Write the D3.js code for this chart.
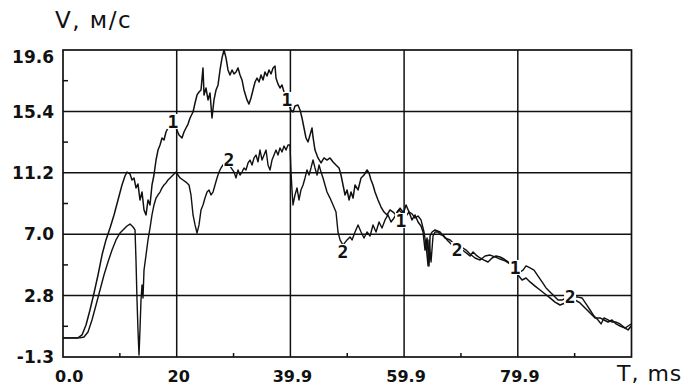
<!DOCTYPE html>
<html>
<head>
<meta charset="utf-8">
<script src="https://cdn.jsdelivr.net/npm/d3@7"></script>
<style>
  html, body { margin: 0; padding: 0; background: #fff; }
  svg { display: block; }
</style>
</head>
<body>
<svg id="chart" width="689" height="387"></svg>
<script>
// Axis ticks and labels
const xTickValues = [0, 19.97, 39.94, 59.91, 79.88];
const xTickLabels = ["0.0", "20", "39.9", "59.9", "79.9"];
const yTickValues = [-1.3, 2.88, 7.06, 11.24, 15.42, 19.6];
const yTickLabels = ["-1.3", "2.8", "7.0", "11.2", "15.4", "19.6"];

// Series 1: time, ms
const t1 = [0, 2.63, 3.34, 4.04, 4.74, 5.45, 6.15, 6.85, 7.55, 8.26, 8.96, 9.66, 10.36, 10.89, 11.24, 11.77, 12.12, 12.47, 12.82, 13.17,
  13.52, 13.88, 14.23, 14.58, 14.93, 15.28, 15.63, 15.98, 16.34, 16.69, 17.04, 17.39, 17.74, 18.09, 18.44, 18.80, 19.32, 19.85, 20.38, 20.90,
  21.25, 21.60, 21.96, 22.31, 22.84, 23.19, 23.54, 23.89, 24.24, 24.59, 24.77, 25.12, 25.47, 25.82, 26.17, 26.52, 26.88, 27.23, 27.58, 27.93,
  28.28, 28.63, 28.98, 29.33, 29.69, 30.04, 30.39, 30.74, 31.09, 31.44, 31.79, 32.32, 32.67, 33.02, 33.37, 33.73, 34.08, 34.43, 34.78, 35.13,
  35.48, 35.83, 36.18, 36.54, 36.89, 37.24, 37.41, 37.76, 38.11, 38.46, 38.82, 39.34, 40.04, 40.40, 40.75, 41.27, 41.63, 41.98, 42.33, 42.68,
  43.03, 43.39, 43.74, 43.91, 44.26, 44.79, 45.32, 45.84, 46.37, 46.90, 47.43, 47.95, 48.48, 48.83, 49.18, 49.54, 49.89, 50.24, 50.59, 50.94,
  51.29, 51.82, 52.35, 52.87, 53.40, 53.75, 54.10, 54.45, 54.80, 55.33, 55.86, 56.39, 56.91, 57.44, 57.97, 58.49, 59.02, 59.72, 60.25, 60.78,
  61.30, 61.83, 62.36, 62.88, 63.24, 63.59, 63.94, 64.29, 64.47, 64.82, 65.34, 66.22, 67.10, 67.98, 68.86, 69.74, 70.61, 71.49, 72.02, 72.55,
  73.25, 73.95, 74.65, 75.36, 76.06, 76.76, 77.46, 78.17, 78.87, 79.40, 79.92, 80.62, 81.33, 82.03, 82.91, 83.79, 84.67, 85.54, 86.42, 87.30,
  88.18, 89.06, 89.93, 90.81, 91.69, 92.57, 93.45, 94.33, 95.03, 95.73, 96.43, 97.14, 97.84, 98.72, 99.25, 99.77];
// Series 1: velocity, m/s
const v1 = [0.0, 0.0, 0.20, 0.88, 1.90, 3.06, 4.28, 5.64, 6.67, 7.48, 8.37, 9.39, 10.41, 11.02, 11.29, 11.16, 10.75, 10.89, 10.21, 10.48,
  9.39, 9.93, 8.71, 8.37, 9.39, 9.05, 10.41, 11.09, 12.11, 12.79, 13.13, 13.61, 13.47, 14.02, 14.29, 14.49, 14.70, 14.29, 13.81, 13.61,
  14.02, 14.29, 14.56, 14.97, 15.38, 15.99, 16.54, 16.74, 16.88, 18.38, 16.54, 17.01, 16.20, 16.67, 14.97, 16.20, 16.88, 17.22, 18.24, 19.06,
  19.60, 19.06, 18.24, 17.90, 18.24, 17.97, 18.10, 18.38, 17.90, 17.56, 16.88, 16.20, 15.92, 16.33, 16.88, 17.42, 17.69, 17.42, 17.90, 17.56,
  18.10, 17.83, 18.24, 17.97, 18.38, 18.51, 17.69, 17.29, 17.01, 17.22, 16.74, 16.20, 15.52, 15.38, 15.79, 15.86, 15.52, 14.97, 14.29, 13.61,
  13.34, 13.81, 14.29, 13.68, 12.79, 12.25, 11.91, 12.25, 12.11, 12.25, 11.98, 11.77, 11.57, 11.09, 10.41, 9.73, 10.07, 9.39, 9.93, 9.52,
  10.41, 10.07, 10.89, 11.09, 11.43, 11.23, 10.75, 10.41, 9.93, 9.39, 8.91, 8.57, 8.37, 8.71, 8.57, 8.37, 8.71, 8.44, 9.05, 8.57,
  8.03, 8.37, 7.89, 7.62, 7.21, 5.98, 6.80, 4.90, 6.94, 7.21, 7.35, 7.21, 6.80, 6.67, 6.32, 6.12, 5.85, 5.58, 5.85, 5.64,
  5.44, 5.30, 5.17, 5.44, 5.58, 5.51, 5.37, 5.17, 4.90, 4.49, 4.28, 3.94, 4.08, 3.81, 3.53, 3.26, 2.99, 2.72, 2.44, 2.24,
  2.38, 2.58, 2.58, 2.38, 2.04, 1.70, 1.36, 1.36, 1.22, 1.08, 1.22, 0.95, 0.81, 0.67, 0.54, 0.81];

// Series 2: time, ms
const t2 = [0, 2.11, 2.99, 3.69, 4.39, 5.09, 5.80, 6.50, 7.20, 7.90, 8.61, 9.31, 10.01, 10.71, 11.24, 11.77, 12.30, 12.65, 12.82, 13.00,
  13.17, 13.35, 13.52, 13.70, 13.88, 14.05, 14.23, 14.58, 14.93, 15.28, 15.63, 15.98, 16.34, 16.69, 17.04, 17.39, 17.74, 18.09, 18.44, 18.80,
  19.15, 19.50, 19.85, 20.20, 20.55, 21.08, 21.60, 22.13, 22.48, 22.84, 23.19, 23.54, 23.89, 24.24, 24.59, 24.94, 25.30, 25.65, 26.00, 26.35,
  26.70, 27.05, 27.40, 27.75, 28.11, 28.63, 30.04, 30.39, 30.74, 31.09, 31.44, 31.79, 32.14, 32.50, 32.85, 33.20, 33.55, 33.90, 34.25, 34.60,
  34.96, 35.31, 35.66, 36.01, 36.36, 36.71, 37.06, 37.41, 37.76, 38.11, 38.47, 38.82, 39.17, 39.52, 39.87, 40.05, 40.22, 40.40, 40.75, 41.10,
  41.45, 41.80, 42.16, 42.51, 42.86, 43.21, 43.56, 43.91, 44.26, 44.62, 44.97, 45.32, 45.67, 46.02, 46.37, 46.90, 47.43, 47.95, 48.30, 48.66,
  49.18, 49.89, 50.41, 50.77, 51.29, 51.82, 52.35, 52.87, 53.40, 53.93, 54.45, 54.98, 55.51, 56.03, 56.56, 57.09, 57.61, 58.14, 58.67, 59.20,
  59.72, 60.25, 60.78, 61.30, 61.83, 62.36, 62.88, 63.41, 63.76, 64.12, 64.29, 64.64, 64.99, 65.34, 65.87, 66.40, 66.92, 67.45, 68.16, 69.21,
  70.26, 70.79, 71.49, 72.37, 73.25, 74.13, 75.01, 75.89, 76.76, 77.64, 78.52, 79.05, 79.75, 80.28, 80.80, 81.33, 82.03, 82.73, 83.44, 84.14,
  84.84, 85.54, 86.25, 86.95, 87.65, 88.35, 89.41, 90.46, 91.16, 91.87, 92.57, 93.27, 93.97, 94.50, 95.03, 95.73, 96.43, 97.14, 97.84, 98.72,
  99.25, 99.77];
// Series 2: velocity, m/s
const v2 = [0.0, 0.0, 0.0, 0.06, 0.40, 1.22, 2.24, 3.26, 4.28, 5.17, 5.98, 6.67, 7.14, 7.41, 7.62, 7.75, 7.55, 7.35, 5.30, 2.58,
  0.54, -1.16, 0.54, 2.58, 3.60, 2.72, 4.62, 5.64, 6.67, 7.48, 8.37, 9.05, 9.52, 9.73, 9.93, 10.21, 10.41, 10.55, 10.75, 10.89,
  11.02, 11.16, 11.29, 11.09, 10.89, 10.75, 10.61, 10.41, 9.73, 8.37, 7.69, 7.14, 7.69, 8.71, 9.05, 9.52, 9.93, 10.07, 9.73, 9.93,
  10.41, 10.89, 11.29, 11.57, 11.77, 12.11, 11.29, 10.89, 11.43, 11.09, 11.29, 11.57, 11.43, 11.91, 12.11, 11.77, 12.25, 12.45, 11.98, 12.79,
  12.11, 12.45, 12.79, 11.77, 11.43, 12.11, 12.45, 12.79, 12.45, 12.93, 12.66, 13.06, 12.79, 13.13, 13.13, 11.29, 10.07, 9.05, 9.73, 10.21,
  9.39, 10.07, 10.41, 10.89, 11.43, 11.09, 11.57, 12.11, 11.57, 11.09, 11.77, 11.29, 10.89, 10.41, 9.93, 9.52, 9.05, 8.57, 7.21, 6.67,
  6.32, 6.67, 6.87, 6.67, 7.21, 7.69, 7.21, 6.80, 7.21, 6.94, 7.69, 7.21, 7.89, 7.48, 8.03, 8.37, 7.89, 8.16, 8.57, 8.84,
  8.57, 8.30, 8.57, 8.44, 8.16, 8.30, 8.03, 7.21, 6.32, 4.90, 6.67, 5.17, 6.94, 7.21, 7.21, 7.01, 6.94, 6.67, 6.39, 6.12,
  6.12, 5.98, 5.71, 5.44, 5.30, 5.58, 5.64, 5.51, 5.37, 5.24, 5.03, 4.62, 4.49, 4.49, 4.62, 4.90, 4.76, 4.62, 4.21, 3.81,
  3.40, 3.13, 2.85, 2.58, 2.58, 2.72, 2.78, 2.78, 2.72, 2.31, 1.90, 1.49, 1.22, 0.95, 1.36, 1.22, 1.08, 1.08, 0.95, 0.67,
  0.81, 0.95];

// Curve number markers placed along the traces (time, velocity)
const markers1 = [[19.32, 14.70], [39.35, 16.20], [59.37, 7.96], [79.40, 4.76]];
const markers2 = [[29.16, 12.11], [49.18, 5.85], [69.21, 5.98], [89.06, 2.78]];

const yTitle = "V, м/с";
const xTitle = "T, ms";

const svg = d3.select("#chart");
const plotLeft = 63, plotRight = 631.5, plotTop = 50, plotBottom = 357;

const x = d3.scaleLinear().domain([0, 99.85]).range([plotLeft, plotRight]);
const y = d3.scaleLinear().domain([-1.3, 19.6]).range([plotBottom, plotTop]);

svg.append("rect").attr("width", 689).attr("height", 387).attr("fill", "#fff");

const ink = "#111";

// grid
const grid = svg.append("g").attr("stroke", ink).attr("stroke-width", 1.5);
grid.selectAll("line.v").data(xTickValues.slice(1)).join("line")
  .attr("x1", d => x(d)).attr("x2", d => x(d)).attr("y1", plotTop).attr("y2", plotBottom);
grid.selectAll("line.h").data(yTickValues.slice(1, -1)).join("line")
  .attr("x1", plotLeft).attr("x2", plotRight).attr("y1", d => y(d)).attr("y2", d => y(d));

// minor ticks halfway between grid lines
const minor = svg.append("g").attr("stroke", ink).attr("stroke-width", 1.5);
const xStep = xTickValues[1] - xTickValues[0];
const xMinor = xTickValues.map(d => d + xStep / 2);
minor.selectAll("line.xm").data(xMinor).join("line")
  .attr("x1", d => x(d)).attr("x2", d => x(d)).attr("y1", plotBottom).attr("y2", plotBottom - 4);
const yStep = yTickValues[1] - yTickValues[0];
const yMinor = yTickValues.slice(0, -1).map(d => d + yStep / 2);
const minorY = svg.append("g").attr("stroke", ink).attr("stroke-width", 1.5);
minorY.selectAll("line.ym").data(yMinor).join("line")
  .attr("x1", plotLeft).attr("x2", plotLeft + 5).attr("y1", d => y(d)).attr("y2", d => y(d));

// traces
const line = d3.line().x(d => x(d[0])).y(d => y(d[1]));
const s1 = t1.map((t, i) => [t, v1[i]]);
const s2 = t2.map((t, i) => [t, v2[i]]);
svg.append("path").attr("d", line(s2)).attr("fill", "none").attr("stroke", ink).attr("stroke-width", 1.4).attr("stroke-linejoin", "round");
svg.append("path").attr("d", line(s1)).attr("fill", "none").attr("stroke", ink).attr("stroke-width", 1.5).attr("stroke-linejoin", "round");

// curve numbers
function drawMarkers(list, label) {
  const g = svg.append("g");
  list.forEach(([t, v]) => {
    g.append("rect").attr("x", x(t) - 6).attr("y", y(v) - 8).attr("width", 12).attr("height", 15).attr("fill", "#fff");
    g.append("text").attr("x", x(t)).attr("y", y(v) + 6)
      .attr("text-anchor", "middle")
      .attr("font-family", "'DejaVu Sans Mono', monospace").attr("font-weight", "bold").attr("font-size", 18)
      .attr("fill", ink).text(label);
  });
}
drawMarkers(markers1, "1");
drawMarkers(markers2, "2");

// frame
svg.append("rect").attr("x", plotLeft).attr("y", plotTop).attr("width", plotRight - plotLeft).attr("height", plotBottom - plotTop)
  .attr("fill", "none").attr("stroke", ink).attr("stroke-width", 1.7);

// tick labels
const tickFont = "'DejaVu Sans', sans-serif";
svg.append("g").selectAll("text").data(yTickValues).join("text")
  .attr("x", 54)
  .attr("y", (d, i) => i === yTickValues.length - 1 ? y(d) + 7 : y(d))
  .attr("dy", "0.36em")
  .attr("text-anchor", "end")
  .attr("font-family", tickFont).attr("font-weight", "bold").attr("font-size", 17)
  .attr("fill", ink)
  .text((d, i) => yTickLabels[i]);

svg.append("g").selectAll("text").data(xTickValues).join("text")
  .attr("x", (d, i) => i === 0 ? x(d) - 8 : x(d) + 2)
  .attr("y", 382)
  .attr("text-anchor", (d, i) => i === 0 ? "start" : "middle")
  .attr("font-family", tickFont).attr("font-weight", "bold").attr("font-size", 16)
  .attr("fill", ink)
  .text((d, i) => xTickLabels[i]);

// axis titles
svg.append("text").attr("x", 55).attr("y", 28)
  .attr("font-family", tickFont).attr("font-size", 23).attr("letter-spacing", 1.5)
  .attr("fill", ink).text(yTitle);
svg.append("text").attr("x", 617).attr("y", 381)
  .attr("font-family", tickFont).attr("font-size", 22).attr("letter-spacing", 1)
  .attr("fill", ink).text(xTitle);
</script>
</body>
</html>
